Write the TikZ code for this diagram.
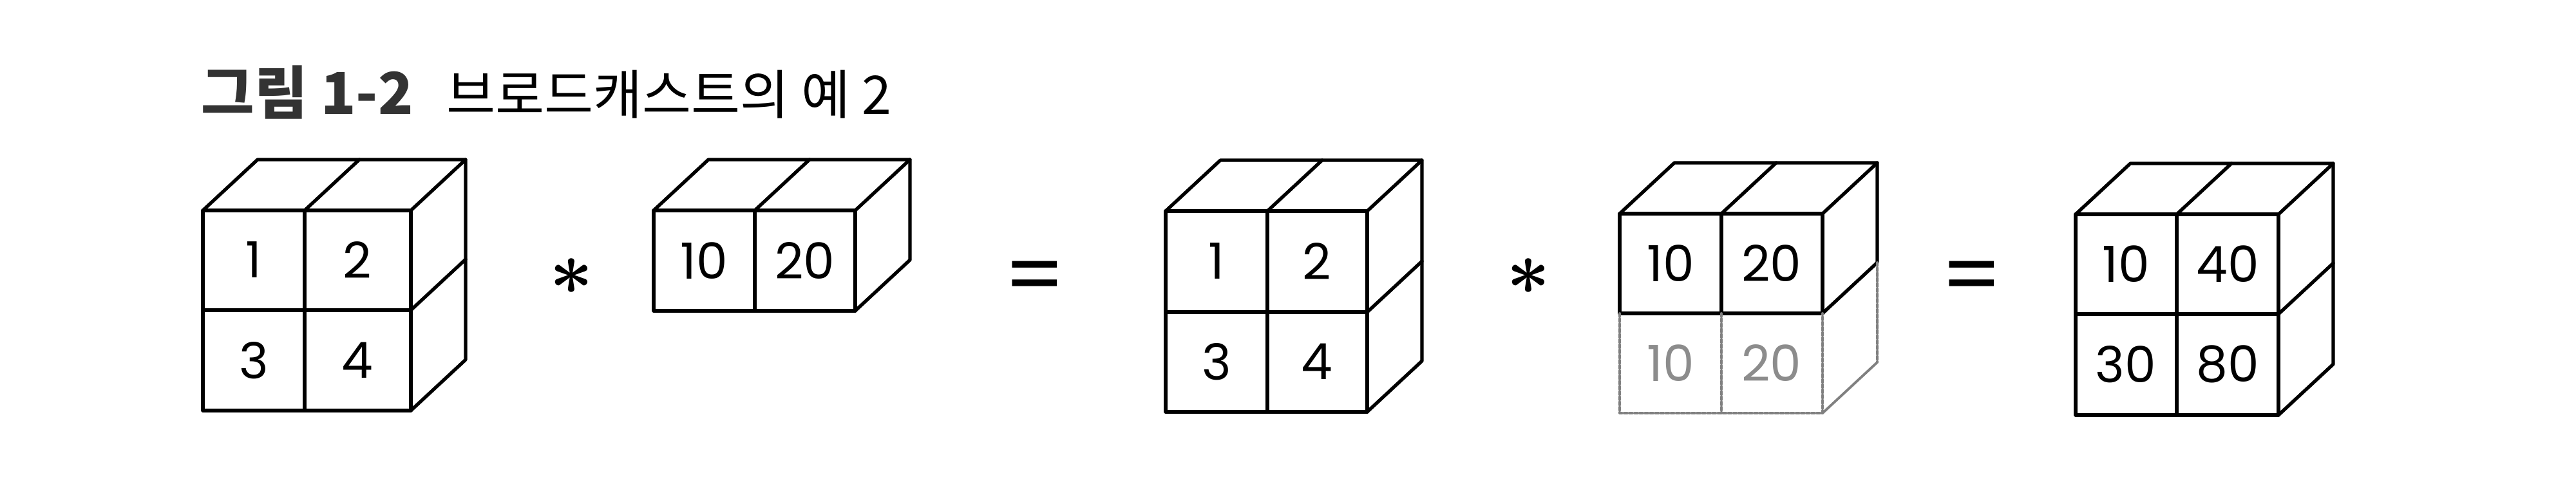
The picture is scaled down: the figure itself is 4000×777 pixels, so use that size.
\documentclass[tikz,border=0pt]{standalone}
\usepackage{fontspec}
\newfontfamily\krfont{Noto Sans CJK KR}
\newfontfamily\numfont{Poppins}
\begin{document}
\begin{tikzpicture}[x=0.01cm,y=-0.01cm,line cap=round,line join=round,
  cubeline/.style={line width=1.5pt},
  ghostline/.style={line width=1.1pt,black!50,dash pattern=on 1.4pt off 0.9pt},
  cellnum/.style={font=\numfont\fontsize{22}{24}\selectfont,inner sep=0pt},
  ghostnum/.style={cellnum,text=black!45},
  opsign/.style={inner sep=0pt}]
\useasboundingbox (0,0) rectangle (4000,777);
% title
\node[anchor=base west,inner sep=0pt,text=black!80,font=\krfont\bfseries\fontsize{25.5}{28}\selectfont] (figno) at (312,178) {그림 1-2};
\node[anchor=base west,inner sep=0pt,font=\krfont\fontsize{23.5}{26}\selectfont] (figtitle) at (693,178) {브로드캐스트의 예 2};
% first operand: 2x2
\draw[cubeline] (315,327) rectangle (638,638);
\draw[cubeline] (473,327) -- (473,638);
\draw[cubeline] (315,482) -- (638,482);
\draw[cubeline] (315,327) -- (400,248) -- (723,248) -- (638,327);
\draw[cubeline] (473,327) -- (558,248);
\draw[cubeline] (723,248) -- (723,559) -- (638,638);
\draw[cubeline] (638,482) -- (723,403);
\node[cellnum] (a11) at (394,404) {1};
\node[cellnum] (a12) at (555,404) {2};
\node[cellnum] (a21) at (394,560) {3};
\node[cellnum] (a22) at (555,560) {4};
\node[opsign,font=\boldmath\fontsize{24}{26}\selectfont] (mul1) at (887,430) {\scalebox{1.35}{$\ast$}};
% second operand: 1x2
\draw[cubeline] (1015,327) rectangle (1328,483);
\draw[cubeline] (1172,327) -- (1172,483);
\draw[cubeline] (1015,327) -- (1100,248) -- (1413,248) -- (1328,327);
\draw[cubeline] (1172,327) -- (1257,248);
\draw[cubeline] (1413,248) -- (1413,404) -- (1328,483);
\node[cellnum] (b1) at (1093,405) {10};
\node[cellnum] (b2) at (1250,405) {20};
\node[opsign,font=\numfont\fontsize{38}{40}\selectfont] (eq1) at (1607,440) {=};
% broadcast: 2x2
\draw[cubeline] (1810,328) rectangle (2123,640);
\draw[cubeline] (1968,328) -- (1968,640);
\draw[cubeline] (1810,485) -- (2123,485);
\draw[cubeline] (1810,328) -- (1895,249) -- (2208,249) -- (2123,328);
\draw[cubeline] (1968,328) -- (2053,249);
\draw[cubeline] (2208,249) -- (2208,561) -- (2123,640);
\draw[cubeline] (2123,485) -- (2208,406);
\node[cellnum] (c11) at (1889,406) {1};
\node[cellnum] (c12) at (2045,406) {2};
\node[cellnum] (c21) at (1889,562) {3};
\node[cellnum] (c22) at (2045,562) {4};
\node[opsign,font=\boldmath\fontsize{24}{26}\selectfont] (mul2) at (2373,430) {\scalebox{1.35}{$\ast$}};
% broadcast: 1x2 stretched to 2x2
\draw[cubeline] (2515,332) rectangle (2830,487);
\draw[cubeline] (2673,332) -- (2673,487);
\draw[cubeline] (2515,332) -- (2600,253) -- (2915,253) -- (2830,332);
\draw[cubeline] (2673,332) -- (2758,253);
\draw[cubeline] (2915,253) -- (2915,408) -- (2830,487);
\draw[ghostline] (2515,487) -- (2515,642) -- (2830,642) -- (2830,487);
\draw[ghostline] (2673,487) -- (2673,642);
\draw[ghostline] (2915,408) -- (2915,563);
\draw[line width=1.1pt,black!50] (2830,642) -- (2915,563);
\node[cellnum] (d1) at (2594,409) {10};
\node[cellnum] (d2) at (2751,409) {20};
\node[ghostnum] (d1g) at (2594,564) {10};
\node[ghostnum] (d2g) at (2751,564) {20};
\node[opsign,font=\numfont\fontsize{38}{40}\selectfont] (eq2) at (3062,440) {=};
% result: 2x2
\draw[cubeline] (3223,333) rectangle (3538,645);
\draw[cubeline] (3380,333) -- (3380,645);
\draw[cubeline] (3223,488) -- (3538,488);
\draw[cubeline] (3223,333) -- (3308,254) -- (3623,254) -- (3538,333);
\draw[cubeline] (3380,333) -- (3465,254);
\draw[cubeline] (3623,254) -- (3623,566) -- (3538,645);
\draw[cubeline] (3538,488) -- (3623,409);
\node[cellnum] (e11) at (3301,410) {10};
\node[cellnum] (e12) at (3459,410) {40};
\node[cellnum] (e21) at (3301,566) {30};
\node[cellnum] (e22) at (3459,566) {80};
\end{tikzpicture}
\end{document}
